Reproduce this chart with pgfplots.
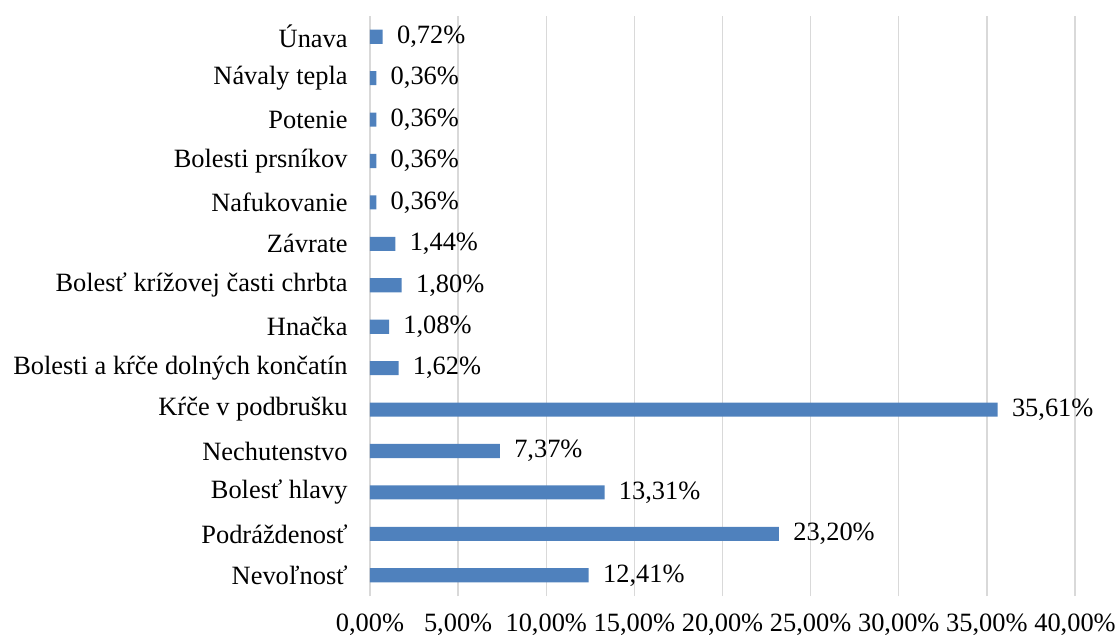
\documentclass[border=0pt]{standalone}
\usepackage{pgfplots}
\pgfplotsset{compat=1.18}
\usepackage{fontspec}
\setmainfont{Liberation Serif}
\definecolor{barblue}{HTML}{4F81BD}
\definecolor{gridgray}{HTML}{D9D9D9}
\begin{document}
\fontsize{19.8}{23}\selectfont
\begin{tikzpicture}
\begin{axis}[
  name=ax,
  scale only axis,
  width=528.75pt, height=435pt,
  xbar, bar width=0.34,
  xmin=0, xmax=40,
  ymin=-0.5, ymax=13.5,
  xtick={0,5,...,40},
  ytick={0,...,13},
  yticklabels={Nevoľnosť,Podráždenosť,Bolesť hlavy,Nechutenstvo,Kŕče v podbrušku,Bolesti a kŕče dolných končatín,Hnačka,Bolesť krížovej časti chrbta,Závrate,Nafukovanie,Bolesti prsníkov,Potenie,Návaly tepla,Únava},
  xmajorgrids, major grid style={gridgray, line width=1pt},
  axis line style={draw=none},
  major tick length=0pt,
  tick style={draw=none},
  /pgf/number format/.cd, fixed, fixed zerofill, precision=2, use comma, assume math mode=true,
  /pgfplots/.cd,
  xticklabel={\pgfmathprintnumber{\tick}\%},
  xticklabel style={yshift=-6.8pt, font=\fontsize{19.8}{23}\selectfont},
  yticklabel style={xshift=-10pt, font=\fontsize{19.8}{23}\selectfont},
  nodes near coords={\pgfmathprintnumber{\pgfplotspointmeta}\%},
  nodes near coords align={horizontal},
  every node near coord/.append style={font=\fontsize{19.8}{23}\selectfont, anchor=west, xshift=4pt, black},
]
\addplot[fill=barblue, draw=none] coordinates {
(12.41,0) (23.20,1) (13.31,2) (7.37,3) (35.61,4) (1.62,5) (1.08,6) (1.80,7) (1.44,8) (0.36,9) (0.36,10) (0.36,11) (0.36,12) (0.72,13)
};
\end{axis}
\pgfresetboundingbox
\path ([xshift=-277.5pt, yshift=12pt]ax.north west) rectangle ([xshift=30.75pt, yshift=-30pt]ax.south east);
\end{tikzpicture}
\end{document}
